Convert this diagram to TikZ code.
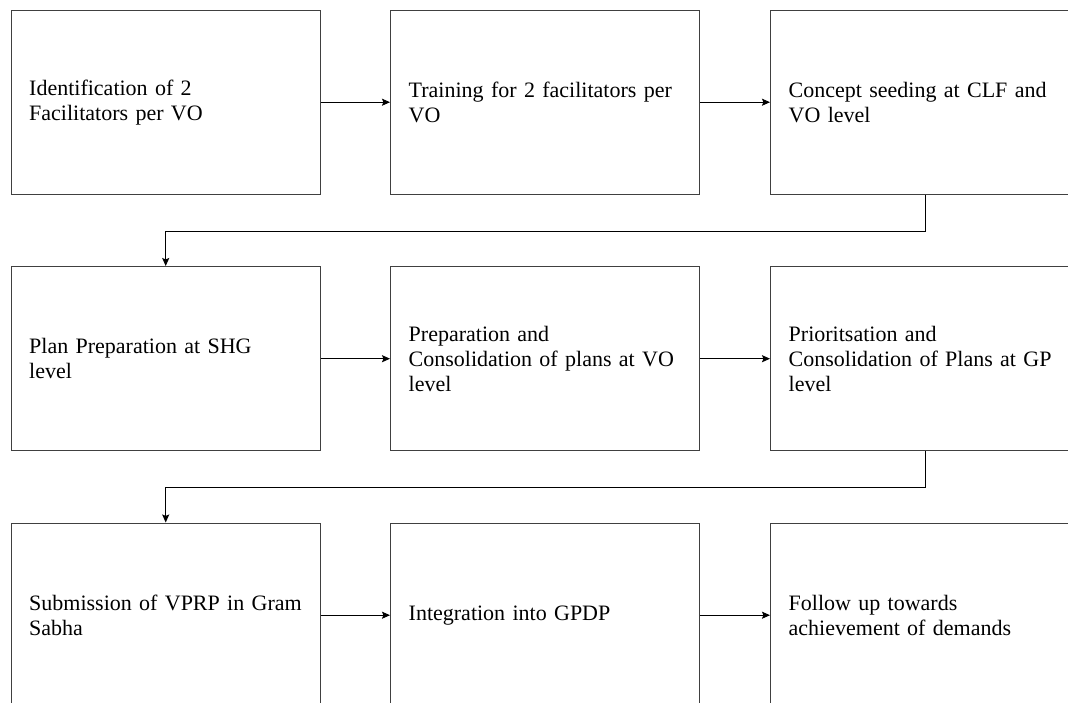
\documentclass[tikz,border=0pt]{standalone}
\usepackage{fontspec}
\setmainfont{Liberation Serif}
\usetikzlibrary{arrows.meta}
\begin{document}
\begin{tikzpicture}[x=1pt,y=-1pt,
  stepbox/.style={draw=black!75, line width=1.4pt, rectangle, anchor=north west,
    minimum width=309pt, minimum height=184pt, text width=273pt, inner xsep=18pt, inner ysep=0pt,
    align=left, font=\fontsize{22pt}{25pt}\selectfont, text=black},
  arr/.style={draw=black, line width=1pt, -{Stealth[length=8pt,width=7pt,inset=1.4pt]}}]
\useasboundingbox (0,0) rectangle (1068,702);
\clip (0,0) rectangle (1068,702);
\fill[white] (0,0) rectangle (1068,702);
% row 1
\node[stepbox] (b1) at (10.5,9.5) {Identification of 2\\Facilitators per VO};
\node[stepbox] (b2) at (390,9.5) {Training for 2 facilitators per\\VO};
\node[stepbox] (b3) at (770,9.5) {Concept seeding at CLF and\\VO level};
% row 2
\node[stepbox] (b4) at (10.5,266) {Plan Preparation at SHG\\level};
\node[stepbox] (b5) at (390,266) {Preparation and\\Consolidation of plans at VO\\level};
\node[stepbox] (b6) at (770,266) {Prioritsation and\\Consolidation of Plans at GP\\level};
% row 3
\node[stepbox] (b7) at (10.5,522.5) {Submission of VPRP in Gram\\Sabha};
\node[stepbox] (b8) at (390,522.5) {Integration into GPDP};
\node[stepbox] (b9) at (770,522.5) {Follow up towards\\achievement of demands};
% connectors
\draw[arr] (b1.east) -- (b2.west);
\draw[arr] (b2.east) -- (b3.west);
\draw[arr] (b3.south) -- ++(0,36.5) -| (b4.north);
\draw[arr] (b4.east) -- (b5.west);
\draw[arr] (b5.east) -- (b6.west);
\draw[arr] (b6.south) -- ++(0,36.5) -| (b7.north);
\draw[arr] (b7.east) -- (b8.west);
\draw[arr] (b8.east) -- (b9.west);
\end{tikzpicture}
\end{document}
